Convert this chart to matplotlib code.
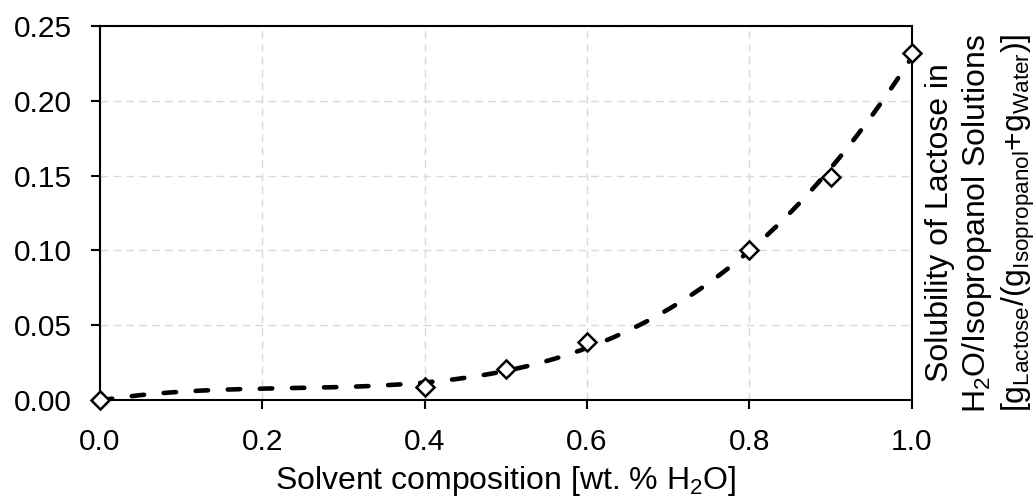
import numpy as np
import matplotlib
matplotlib.use('Agg')
import matplotlib.pyplot as plt

plt.rcParams['font.family'] = ['Liberation Sans', 'DejaVu Sans']
plt.rcParams['mathtext.fontset'] = 'custom'
plt.rcParams['mathtext.rm'] = 'Liberation Sans'
plt.rcParams['mathtext.default'] = 'regular'

# Measured solubility data
water_frac = [0.0, 0.4, 0.5, 0.6, 0.8, 0.9, 1.0]
solubility = [0.0, 0.0085, 0.0205, 0.0385, 0.1005, 0.149, 0.232]

x_ticks = [0.0, 0.2, 0.4, 0.6, 0.8, 1.0]
y_ticks = [0.00, 0.05, 0.10, 0.15, 0.20, 0.25]

fig = plt.figure(figsize=(10.36, 4.99), dpi=100)
ax = fig.add_axes([0.0965, 0.1984, 0.7835, 0.7496])

# 3rd order polynomial trendline through the measured points
coef = np.polyfit(water_frac, solubility, 3)
xs = np.linspace(0, 1, 300)
ax.plot(xs, np.polyval(coef, xs), color='black', lw=3.3, ls=(0, (2.7, 4.3)),
        dash_capstyle='round', zorder=3)

ax.plot(water_frac, solubility, ls='none', marker='D', ms=9, mfc='white',
        mec='black', mew=1.8, zorder=4, clip_on=False)

ax.set_xlim(0, 1)
ax.set_ylim(0, 0.25)
ax.set_xticks(x_ticks)
ax.set_yticks(y_ticks)
ax.set_xticklabels([f"{v:.1f}" for v in x_ticks])
ax.set_yticklabels([f"{v:.2f}" for v in y_ticks])
ax.tick_params(labelsize=21.5, length=6.7, width=1.5, pad=13.5, direction='out')
ax.grid(True, color='#d9d9d9', ls=(0, (5.5, 3.8)), lw=1)
ax.set_axisbelow(True)
for s in ax.spines.values():
    s.set_linewidth(1.5)

ax.set_xlabel('Solvent composition [wt. % H$_2$O]', fontsize=23, labelpad=6)

fig.text(981 / 1036, 0.553,
         'Solubility of Lactose in\nH$_2$O/Isopropanol Solutions\n'
         '[g$_{Lactose}$/(g$_{Isopropanol}$+g$_{Water}$)]',
         fontsize=23, rotation=90, ha='center', va='center',
         multialignment='center')

fig.savefig('out.png', dpi=100)
